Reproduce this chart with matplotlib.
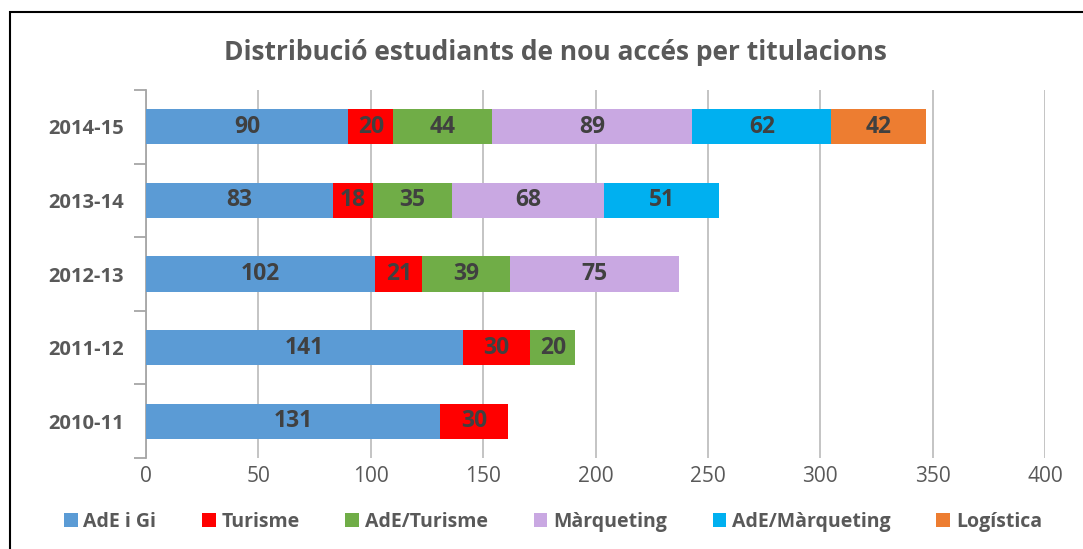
import matplotlib.pyplot as plt
import numpy as np

plt.rcParams['font.family'] = ['Open Sans', 'DejaVu Sans']

years = ['2010-11', '2011-12', '2012-13', '2013-14', '2014-15']
series = ['AdE i Gi', 'Turisme', 'AdE/Turisme', 'Màrqueting', 'AdE/Màrqueting', 'Logística']
ade_gi = [131, 141, 102, 83, 90]
turisme = [30, 30, 21, 18, 20]
ade_tur = [0, 20, 39, 35, 44]
marq = [0, 0, 75, 68, 89]
ade_marq = [0, 0, 0, 51, 62]
logistica = [0, 0, 0, 0, 42]
colors = ['#5B9BD5', '#FF0000', '#70AD47', '#C9A8E2', '#00B0F0', '#ED7D31']

data = [ade_gi, turisme, ade_tur, marq, ade_marq, logistica]

fig = plt.figure(figsize=(10.83, 5.49), dpi=100)
ax = fig.add_axes([146/1083, 1 - 458/549, (1045 - 146)/1083, (458 - 90)/549])

y = np.arange(len(years))
left = np.zeros(len(years))
for name, vals, c in zip(series, data, colors):
    vals = np.array(vals, dtype=float)
    bars = ax.barh(y, vals, left=left, height=0.48, color=c, label=name, zorder=3)
    for b, v in zip(bars, vals):
        if v > 0:
            ax.text(b.get_x() + b.get_width() / 2, b.get_y() + b.get_height() / 2,
                    f'{int(v)}', ha='center', va='center', fontsize=16.5,
                    fontweight='bold', color='#404040', zorder=4)
    left += vals

ax.set_xlim(0, 400)
ax.set_ylim(-0.5, len(years) - 0.5)
ax.set_xticks(np.arange(0, 401, 50))
ax.grid(axis='x', color='#BFBFBF', linewidth=1.3, zorder=0)
ax.set_yticks(y)
ax.set_yticklabels(years, fontweight='bold', fontsize=14.5, color='#595959')
ax.set_yticks(np.arange(-0.5, len(years), 1), minor=True)
ax.tick_params(axis='y', which='major', length=0, pad=16)
ax.tick_params(axis='y', which='minor', length=9, color='#A6A6A6', width=1.3)
ax.tick_params(axis='x', length=0, labelsize=15, labelcolor='#595959', pad=6)
for s in ['top', 'right', 'bottom']:
    ax.spines[s].set_visible(False)
ax.spines['left'].set_color('#A6A6A6')
ax.spines['left'].set_linewidth(1.3)

fig.text(555/1083, 1 - 52/549, 'Distribució estudiants de nou accés per titulacions',
         ha='center', va='center', fontsize=19, fontweight='bold', color='#595959')

leg = ax.legend(loc='center', bbox_to_anchor=(553/1083, 1 - 522/549), bbox_transform=fig.transFigure,
                ncol=6, frameon=False, handlelength=0.7, handleheight=0.7, handletextpad=0.3,
                columnspacing=2.35, prop={'weight': 'bold', 'size': 14})
for t in leg.get_texts():
    t.set_color('#595959')

# chart border (right and bottom edges fall outside the image)
fig.patches.append(plt.Rectangle((10/1083, -0.05), 1.2, 1.05 - 12/549, transform=fig.transFigure,
                                 fill=False, edgecolor='black', linewidth=1.5))

fig.savefig('out.png', dpi=100)
